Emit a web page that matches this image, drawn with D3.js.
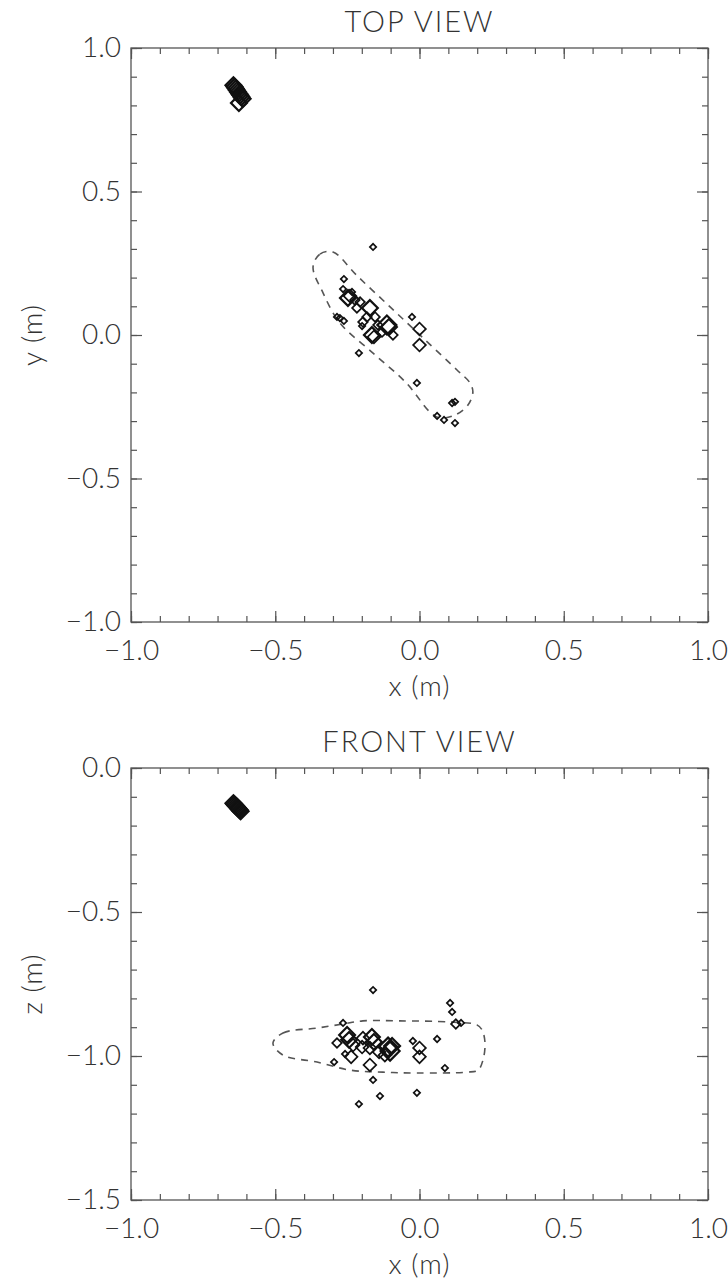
<!DOCTYPE html>
<html><head><meta charset="utf-8">
<script src="https://cdn.jsdelivr.net/npm/d3@7"></script>
<style>
body{margin:0;background:#fff;}
svg text{font-family:Lato,"DejaVu Sans",sans-serif;font-weight:300;fill:#333;}
</style></head>
<body><svg id="c" width="728" height="1281"></svg>
<script>
// ---------- DATA ----------
const xTicks = [-1.0, -0.5, 0.0, 0.5, 1.0];
const yTicksTop = [-1.0, -0.5, 0.0, 0.5, 1.0];
const zTicksFront = [-1.5, -1.0, -0.5, 0.0];

// TOP VIEW points
const topX = [-0.645,-0.641,-0.637,-0.633,-0.629,-0.625,-0.621,-0.617,-0.613,-0.626,
  -0.262,-0.265,-0.248,-0.241,-0.234,-0.224,-0.206,-0.217,-0.172,-0.182,-0.196,-0.199,-0.154,-0.144,-0.113,-0.106,-0.165,-0.158,-0.130,-0.092,
  -0.286,-0.276,-0.262,0.000,0.000,-0.026,-0.210,-0.161,-0.009,0.113,0.123,0.061,0.085,0.123];
const topY = [0.870,0.865,0.859,0.853,0.847,0.841,0.835,0.829,0.823,0.808,
  0.195,0.160,0.129,0.136,0.150,0.122,0.115,0.094,0.094,0.063,0.045,0.031,0.063,0.035,0.035,0.028,0.000,-0.007,0.010,0.000,
  0.063,0.059,0.049,0.021,-0.035,0.063,-0.063,0.307,-0.167,-0.237,-0.233,-0.282,-0.296,-0.307];
const topMag = [4,4,4,4,4,4,4,4,4,4,
  1,1,4,3,1,2,2,2,4,2,2,1,2,2,5,4,4,3,2,2,
  1,1,1,3,3,1,1,1,1,1,1,1,1,1];

// FRONT VIEW points
const frontX = [-0.645,-0.642,-0.638,-0.634,-0.630,-0.627,-0.623,-0.620,
  -0.265,-0.286,-0.251,-0.244,-0.230,-0.258,-0.237,-0.196,-0.199,-0.165,-0.158,-0.172,-0.172,-0.140,-0.109,-0.102,-0.095,-0.120,
  -0.023,0.000,0.000,0.061,0.088,0.106,0.113,0.126,0.144,-0.296,-0.161,-0.137,-0.009,-0.210,-0.161];
const frontZ = [-0.122,-0.126,-0.130,-0.134,-0.138,-0.142,-0.146,-0.150,
  -0.885,-0.955,-0.927,-0.944,-0.962,-0.993,-1.003,-0.938,-0.969,-0.934,-0.951,-0.972,-1.031,-0.986,-0.969,-0.983,-0.965,-0.997,
  -0.948,-0.972,-1.003,-0.941,-1.042,-0.816,-0.847,-0.889,-0.885,-1.021,-1.083,-1.139,-1.128,-1.167,-0.771];
const frontMag = [4,4,4,4,4,4,4,4,
  1,2,4,4,3,1,3,3,3,4,4,3,3,3,5,5,4,3,
  1,3,3,1,1,1,1,2,1,1,1,1,1,1,1];

// dashed outlines
const topOutlineX = [-0.369,-0.345,-0.300,-0.217,-0.102,0.012,0.130,0.175,0.185,0.168,0.123,0.071,0.036,-0.043,-0.161,-0.276,-0.334];
const topOutlineY = [0.237,0.282,0.289,0.207,0.098,-0.010,-0.122,-0.167,-0.199,-0.244,-0.279,-0.289,-0.268,-0.170,-0.063,0.042,0.146];
const frontOutlineX = [-0.508,-0.473,-0.355,-0.265,-0.196,-0.068,0.106,0.199,0.217,0.227,0.220,0.203,0.165,-0.009,-0.127,-0.241,-0.355,-0.473];
const frontOutlineZ = [-0.955,-0.920,-0.903,-0.889,-0.878,-0.878,-0.882,-0.892,-0.910,-0.955,-1.014,-1.049,-1.056,-1.059,-1.056,-1.049,-1.021,-0.997];

// ---------- DRAW ----------
const svg = d3.select("#c");
const fmt = d3.format(".1f");
const sizeScale = d3.scaleLinear().domain([1,5]).range([3.2,9.5]);

function panel(opt){
  const {left,right,top,bottom,ydom,yTicks,title,ylab,px,py,pm,ox,oy} = opt;
  const x = d3.scaleLinear().domain([-1,1]).range([left,right]);
  const y = d3.scaleLinear().domain(ydom).range([bottom,top]);
  const g = svg.append("g");
  const minorX = d3.range(-10,11).map(d=>d/10);
  const minorY = d3.range(Math.round(ydom[0]*10), Math.round(ydom[1]*10)+1).map(d=>d/10);
  const styleAxis = sel => { sel.select(".domain").remove(); sel.selectAll("line").attr("stroke","#555").attr("stroke-width",1.2); };
  // major ticks & labels
  g.append("g").attr("transform",`translate(0,${bottom})`)
    .call(d3.axisBottom(x).tickValues(xTicks).tickSize(-11).tickPadding(18).tickFormat(fmt)).call(styleAxis)
    .selectAll("text").attr("font-size",28).attr("font-family",null);
  g.append("g").attr("transform",`translate(0,${bottom})`)
    .call(d3.axisBottom(x).tickValues(minorX).tickSize(-6).tickFormat("")).call(styleAxis);
  g.append("g").attr("transform",`translate(0,${top})`)
    .call(d3.axisTop(x).tickValues(xTicks).tickSize(-11).tickFormat("")).call(styleAxis);
  g.append("g").attr("transform",`translate(0,${top})`)
    .call(d3.axisTop(x).tickValues(minorX).tickSize(-6).tickFormat("")).call(styleAxis);
  g.append("g").attr("transform",`translate(${left},0)`)
    .call(d3.axisLeft(y).tickValues(yTicks).tickSize(-11).tickPadding(10).tickFormat(fmt)).call(styleAxis)
    .selectAll("text").attr("font-size",28).attr("font-family",null);
  g.append("g").attr("transform",`translate(${left},0)`)
    .call(d3.axisLeft(y).tickValues(minorY).tickSize(-6).tickFormat("")).call(styleAxis);
  g.append("g").attr("transform",`translate(${right},0)`)
    .call(d3.axisRight(y).tickValues(yTicks).tickSize(-11).tickFormat("")).call(styleAxis);
  g.append("g").attr("transform",`translate(${right},0)`)
    .call(d3.axisRight(y).tickValues(minorY).tickSize(-6).tickFormat("")).call(styleAxis);
  g.append("rect").attr("x",left).attr("y",top).attr("width",right-left).attr("height",bottom-top)
    .attr("fill","none").attr("stroke","#555").attr("stroke-width",1.3);
  // titles
  g.append("text").attr("x",(left+right)/2).attr("y",top-16).attr("text-anchor","middle")
    .attr("font-size",29).attr("letter-spacing",2).text(title);
  g.append("text").attr("x",(left+right)/2).attr("y",bottom+74).attr("text-anchor","middle")
    .attr("font-size",28).attr("letter-spacing",1).text("x (m)");
  g.append("text").attr("transform",`translate(42,${(top+bottom)/2}) rotate(-90)`).attr("text-anchor","middle")
    .attr("font-size",28).attr("letter-spacing",1).text(ylab);
  // outline
  const line = d3.line().x(d=>x(d[0])).y(d=>y(d[1])).curve(d3.curveCatmullRomClosed.alpha(0.5));
  g.append("path").datum(ox.map((v,i)=>[v,oy[i]])).attr("d",line)
    .attr("fill","none").attr("stroke","#555").attr("stroke-width",1.6).attr("stroke-dasharray","7,6");
  // markers
  const pts = px.map((v,i)=>({x:v,y:py[i],m:pm[i]}));
  g.append("g").selectAll("path").data(pts).join("path")
    .attr("transform",d=>`translate(${x(d.x)},${y(d.y)}) rotate(45)`)
    .attr("d",d=>{const s=sizeScale(d.m)/Math.SQRT2; return `M${-s},${-s}H${s}V${s}H${-s}Z`;})
    .attr("fill","none").attr("stroke","#111").attr("stroke-width",d=>d.m>=4?2.2:1.7);
}

panel({left:131,right:708,top:48,bottom:622,ydom:[-1,1],yTicks:yTicksTop,title:"TOP VIEW",ylab:"y (m)",
  px:topX,py:topY,pm:topMag,ox:topOutlineX,oy:topOutlineY});
panel({left:131,right:708,top:768,bottom:1200,ydom:[-1.5,0],yTicks:zTicksFront,title:"FRONT VIEW",ylab:"z (m)",
  px:frontX,py:frontZ,pm:frontMag,ox:frontOutlineX,oy:frontOutlineZ});
</script></body></html>
